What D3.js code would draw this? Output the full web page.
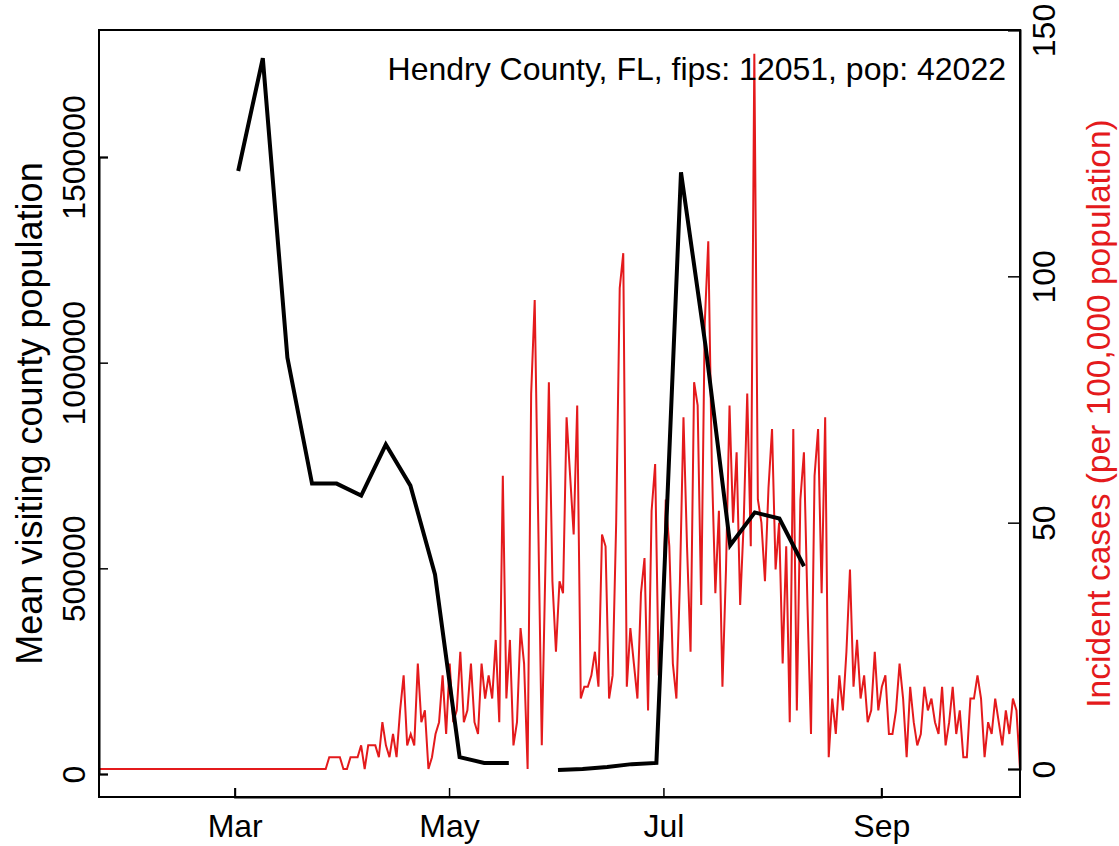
<!DOCTYPE html>
<html>
<head>
<meta charset="utf-8">
<script src="https://cdn.jsdelivr.net/npm/d3@7"></script>
<style>
  body { margin: 0; background: #fff; }
  svg text { font-family: "Liberation Sans", Arial, sans-serif; }
</style>
</head>
<body>
<svg class="chart-svg"></svg>
<script>
// incident cases per 100,000, one value per day starting 2020-01-22
const caseStart = "2020-01-22";
const caseValues = [
  0,0,0,0,0,0,0,0,0,0, 0,0,0,0,0,0,0,0,0,0,
  0,0,0,0,0,0,0,0,0,0, 0,0,0,0,0,0,0,0,0,0,
  0,0,0,0,0,0,0,0,0,0, 0,0,0,0,0,0,0,0,0,0,
  0,0,0,0,0,2.4,2.4,2.4,2.4,0, 0,2.4,2.4,2.4,4.8,0,4.8,4.8,4.8,2.4,
  9.5,4.8,2.4,7.1,2.4,11.9,19.0,4.8,7.1,4.8, 21.4,9.5,11.9,0,2.4,7.1,9.5,19.0,7.1,21.4,
  9.5,11.9,23.8,9.5,11.9,21.4,9.5,7.1,21.4,14.3, 19.0,14.3,26.2,9.5,59.5,14.3,26.2,4.8,9.5,28.6,
  21.4,0,76.2,95.2,50.0,4.8,40.5,78.5,38.1,23.8, 38.1,35.7,71.4,59.5,47.6,73.8,14.3,16.7,16.7,19.0,
  23.8,16.7,47.6,45.2,14.3,19.0,50.0,97.6,104.7,16.7, 28.6,21.4,14.3,35.7,42.8,11.9,52.4,61.9,19.0,26.2,
  54.7,45.2,21.4,14.3,38.1,71.4,45.2,23.8,78.5,73.8, 33.3,90.4,107.1,61.9,35.7,52.4,16.7,40.5,73.8,50.0,
  64.3,33.3,50.0,76.2,45.2,145.2,54.7,50.0,38.1,57.1, 69.0,40.5,50.0,21.4,45.2,9.5,69.0,11.9,54.7,64.3,
  33.3,7.1,59.5,69.0,35.7,71.4,2.4,14.3,7.1,19.0, 11.9,23.8,40.5,16.7,26.2,14.3,19.0,9.5,11.9,23.8,
  11.9,16.7,19.0,7.1,7.1,11.9,21.4,14.3,2.4,16.7, 9.5,4.8,7.1,16.7,11.9,14.3,9.5,7.1,16.7,4.8,
  9.5,16.7,7.1,11.9,2.4,2.4,14.3,14.3,19.0,14.3, 2.4,9.5,7.1,14.3,9.5,4.8,11.9,7.1,14.3,11.9,
  0
];

// weekly mean visiting population (null = no data that week)
const visitDates = [
  "2020-03-02","2020-03-09","2020-03-16","2020-03-23","2020-03-30","2020-04-06",
  "2020-04-13","2020-04-20","2020-04-27","2020-05-04","2020-05-11","2020-05-18",
  "2020-05-25","2020-06-01","2020-06-08","2020-06-15","2020-06-22","2020-06-29",
  "2020-07-06","2020-07-13","2020-07-20","2020-07-27","2020-08-03","2020-08-10"
];
const visitValues = [
  1466000, 1740000, 1012000, 706000, 706000, 677000,
  801000, 701000, 485000, 41000, 27000, 27000,
  null, 10000, 12000, 17000, 24000, 27000,
  1463000, 1040000, 556000, 636000, 621000, 505000
];

const xTickLabels = ["Mar", "May", "Jul", "Sep"];
const xTickDates = ["2020-03-01", "2020-05-01", "2020-07-01", "2020-09-01"];
const leftTicks = [0, 500000, 1000000, 1500000];
const rightTicks = [0, 50, 100, 150];
const titleText = "Hendry County, FL, fips: 12051, pop: 42022";

const chart = {
    width: 1119,
    height: 846,
    left: 99,
    right: 1020,
    top: 30,
    bottom: 797,
    tickFont: 32,
    leftLabFont: 36,
    rightLabFont: 33.5,
    red: "#e41a1c",
};

const parse = d3.timeParse("%Y-%m-%d");
const start = parse(caseStart);
const cases = caseValues.map((v, i) => ({ date: d3.timeDay.offset(start, i), value: v }));
const visits = visitDates.map((d, i) => ({ date: parse(d), value: visitValues[i] }));

const svg = d3.select(".chart-svg")
    .attr("width", chart.width)
    .attr("height", chart.height);

// axis / weekly scale (pinned on the Mar and Sep ticks)
const x = d3.scaleTime()
    .domain([parse(xTickDates[0]), parse(xTickDates[3])])
    .range([234.7, 881.3]);

// the daily case series fills the box edge to edge
const xCases = d3.scaleTime()
    .domain(d3.extent(cases, d => d.date))
    .range([chart.left, chart.right]);

const yLeft = d3.scaleLinear().domain([0, 1500000]).range([774, 157]);
const yRight = d3.scaleLinear().domain([0, 150]).range([769, chart.top]);

svg.append("clipPath").attr("id", "plot-clip")
    .append("rect")
    .attr("x", chart.left).attr("y", chart.top)
    .attr("width", chart.right - chart.left).attr("height", chart.bottom - chart.top);

const plot = svg.append("g").attr("clip-path", "url(#plot-clip)");

// red daily cases
plot.append("path")
    .datum(cases)
    .attr("fill", "none")
    .attr("stroke", chart.red)
    .attr("stroke-width", 2)
    .attr("d", d3.line().x(d => xCases(d.date)).y(d => yRight(d.value)));

// black weekly visitors
plot.append("path")
    .datum(visits)
    .attr("fill", "none")
    .attr("stroke", "#000")
    .attr("stroke-width", 4)
    .attr("d", d3.line()
        .defined(d => d.value !== null)
        .x(d => x(d.date))
        .y(d => yLeft(d.value)));

// box
svg.append("rect")
    .attr("x", chart.left).attr("y", chart.top)
    .attr("width", chart.right - chart.left).attr("height", chart.bottom - chart.top)
    .attr("fill", "none").attr("stroke", "#000").attr("stroke-width", 2);

// axes, ticks pointing inward like the original
const bottomAxis = svg.append("g")
    .attr("transform", `translate(0, ${chart.bottom})`)
    .call(d3.axisBottom(x)
        .tickValues(xTickDates.map(parse))
        .tickFormat((d, i) => xTickLabels[i])
        .tickSize(-9));

const leftAxis = svg.append("g")
    .attr("transform", `translate(${chart.left}, 0)`)
    .call(d3.axisLeft(yLeft).tickValues(leftTicks).tickFormat(d3.format("d")).tickSize(-9));

const rightAxis = svg.append("g")
    .attr("transform", `translate(${chart.right}, 0)`)
    .call(d3.axisRight(yRight).tickValues(rightTicks).tickSize(-12));

[bottomAxis, leftAxis, rightAxis].forEach(g => {
    g.select(".domain").attr("stroke-width", 2);
    g.selectAll(".tick line").attr("stroke-width", 1.5);
    g.selectAll("text").attr("font-size", chart.tickFont).attr("fill", "#000");
});

bottomAxis.selectAll("text").attr("y", 29).attr("dy", "0.35em");

leftAxis.selectAll(".tick text")
    .attr("x", null).attr("dy", null)
    .attr("text-anchor", "middle")
    .attr("dominant-baseline", "central")
    .attr("transform", "translate(-25, 0) rotate(-90)");

rightAxis.selectAll(".tick text")
    .attr("x", null).attr("dy", null)
    .attr("text-anchor", "middle")
    .attr("dominant-baseline", "central")
    .attr("transform", "translate(24, 0) rotate(-90)");

// axis titles
const midY = (chart.top + chart.bottom) / 2;
svg.append("text")
    .attr("transform", `translate(29, ${midY}) rotate(-90)`)
    .attr("text-anchor", "middle")
    .attr("dominant-baseline", "central")
    .attr("font-size", chart.leftLabFont)
    .text("Mean visiting county population");

svg.append("text")
    .attr("transform", `translate(1098, ${midY}) rotate(-90)`)
    .attr("text-anchor", "middle")
    .attr("dominant-baseline", "central")
    .attr("font-size", chart.rightLabFont)
    .attr("fill", chart.red)
    .text("Incident cases (per 100,000 population)");

svg.append("text")
    .attr("x", 1006)
    .attr("y", 80)
    .attr("text-anchor", "end")
    .attr("font-size", chart.tickFont)
    .text(titleText);
</script>
</body>
</html>
